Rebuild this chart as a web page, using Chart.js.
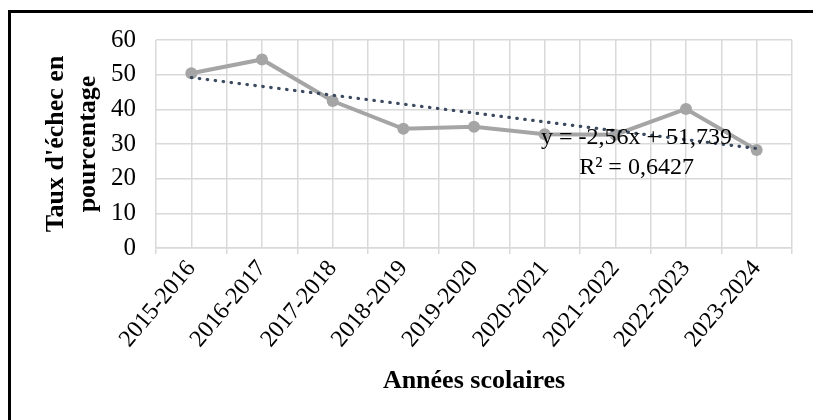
<!DOCTYPE html>
<html>
<head>
<meta charset="utf-8">
<script src="https://cdn.jsdelivr.net/npm/chart.js@4.4.1/dist/chart.umd.min.js"></script>
<style>
  html, body { margin: 0; padding: 0; background: #fff; }
  #wrap { position: relative; width: 813px; height: 420px; overflow: hidden; }
  #frame { position: absolute; left: 8px; top: 10px; width: 900px; height: 500px;
           border-top: 3px solid #000; border-left: 3px solid #000; pointer-events: none; }
</style>
</head>
<body>
<div id="wrap">
  <canvas id="c" width="813" height="420"></canvas>
  <div id="frame"></div>
</div>
<script>
const categories = ['2015-2016','2016-2017','2017-2018','2018-2019','2019-2020','2020-2021','2021-2022','2022-2023','2023-2024'];
const failureRates = [50.4, 54.4, 42.4, 34.4, 35.0, 32.8, 32.7, 40.1, 28.3];
const trendValues = [49.18, 46.62, 44.06, 41.50, 38.94, 36.38, 33.82, 31.26, 28.70];
const yTicks = [0, 10, 20, 30, 40, 50, 60];
const equationLines = ['y = -2,56x + 51,739', 'R² = 0,6427'];
const equationAnchor = { x: 6.3, y: [31.9, 23.3] };

const serif = "'Liberation Serif', 'Times New Roman', serif";

const equationPlugin = {
  id: 'equation',
  afterDatasetsDraw(chart) {
    const { ctx, scales } = chart;
    ctx.save();
    ctx.font = `24px ${serif}`;
    ctx.fillStyle = '#000';
    ctx.textAlign = 'center';
    ctx.textBaseline = 'middle';
    const px = scales.x.getPixelForValue(equationAnchor.x);
    equationLines.forEach((t, i) => {
      ctx.fillText(t, px, scales.y.getPixelForValue(equationAnchor.y[i]));
    });
    ctx.restore();
  }
};

new Chart(document.getElementById('c'), {
  type: 'line',
  data: {
    labels: categories,
    datasets: [
      {
        label: 'Tendance',
        data: trendValues,
        borderColor: '#3B4A5E',
        borderWidth: 3.2,
        borderDash: [0.5, 7.5],
        borderCapStyle: 'round',
        pointRadius: 0,
        fill: false,
        tension: 0,
        order: 0
      },
      {
        label: "Taux d'échec",
        data: failureRates,
        borderColor: '#A5A5A5',
        backgroundColor: '#A5A5A5',
        borderWidth: 4,
        pointRadius: 6,
        pointBackgroundColor: '#A5A5A5',
        pointBorderColor: '#A5A5A5',
        pointBorderWidth: 0,
        fill: false,
        tension: 0,
        order: 1
      }
    ]
  },
  options: {
    responsive: false,
    animation: false,
    events: [],
    layout: { padding: { left: 38, top: 40, right: 21, bottom: 19 } },
    plugins: { legend: { display: false }, tooltip: { enabled: false } },
    scales: {
      x: {
        type: 'category',
        offset: true,
        grid: { offset: true, color: '#d9d9d9', lineWidth: 1.5, tickLength: 6, drawTicks: true },
        border: { display: true, color: '#d9d9d9', width: 1.5 },
        ticks: {
          minRotation: 50, maxRotation: 50, autoSkip: false,
          font: { family: serif, size: 24 }, color: '#000', padding: 1
        },
        title: {
          display: true, text: 'Années scolaires', color: '#000',
          font: { family: serif, size: 26, weight: 'bold', lineHeight: 1.2 },
          padding: { top: 4, bottom: 4 }
        },
        afterFit(s) { s.height = 153; }
      },
      x2: {
        type: 'category',
        position: 'bottom',
        offset: true,
        labels: categories,
        grid: { offset: false, color: '#d9d9d9', lineWidth: 1.5, drawTicks: false },
        border: { display: false },
        ticks: { display: false },
        afterFit(s) { s.height = 0; }
      },
      y: {
        min: yTicks[0], max: yTicks[yTicks.length - 1],
        afterBuildTicks(s) { s.ticks = yTicks.map(v => ({ value: v })); },
        grid: { color: '#d9d9d9', lineWidth: 1.5, drawTicks: false },
        border: { display: false },
        ticks: { font: { family: serif, size: 25 }, color: '#000', padding: 20 },
        title: {
          display: true, text: ["Taux d'échec en", 'pourcentage'], color: '#000',
          font: { family: serif, size: 26, weight: 'bold', lineHeight: 1.2 },
          padding: { top: 3, bottom: 4 }
        },
        afterFit(s) { s.width = 118; }
      }
    }
  },
  plugins: [equationPlugin]
});
</script>
</body>
</html>
